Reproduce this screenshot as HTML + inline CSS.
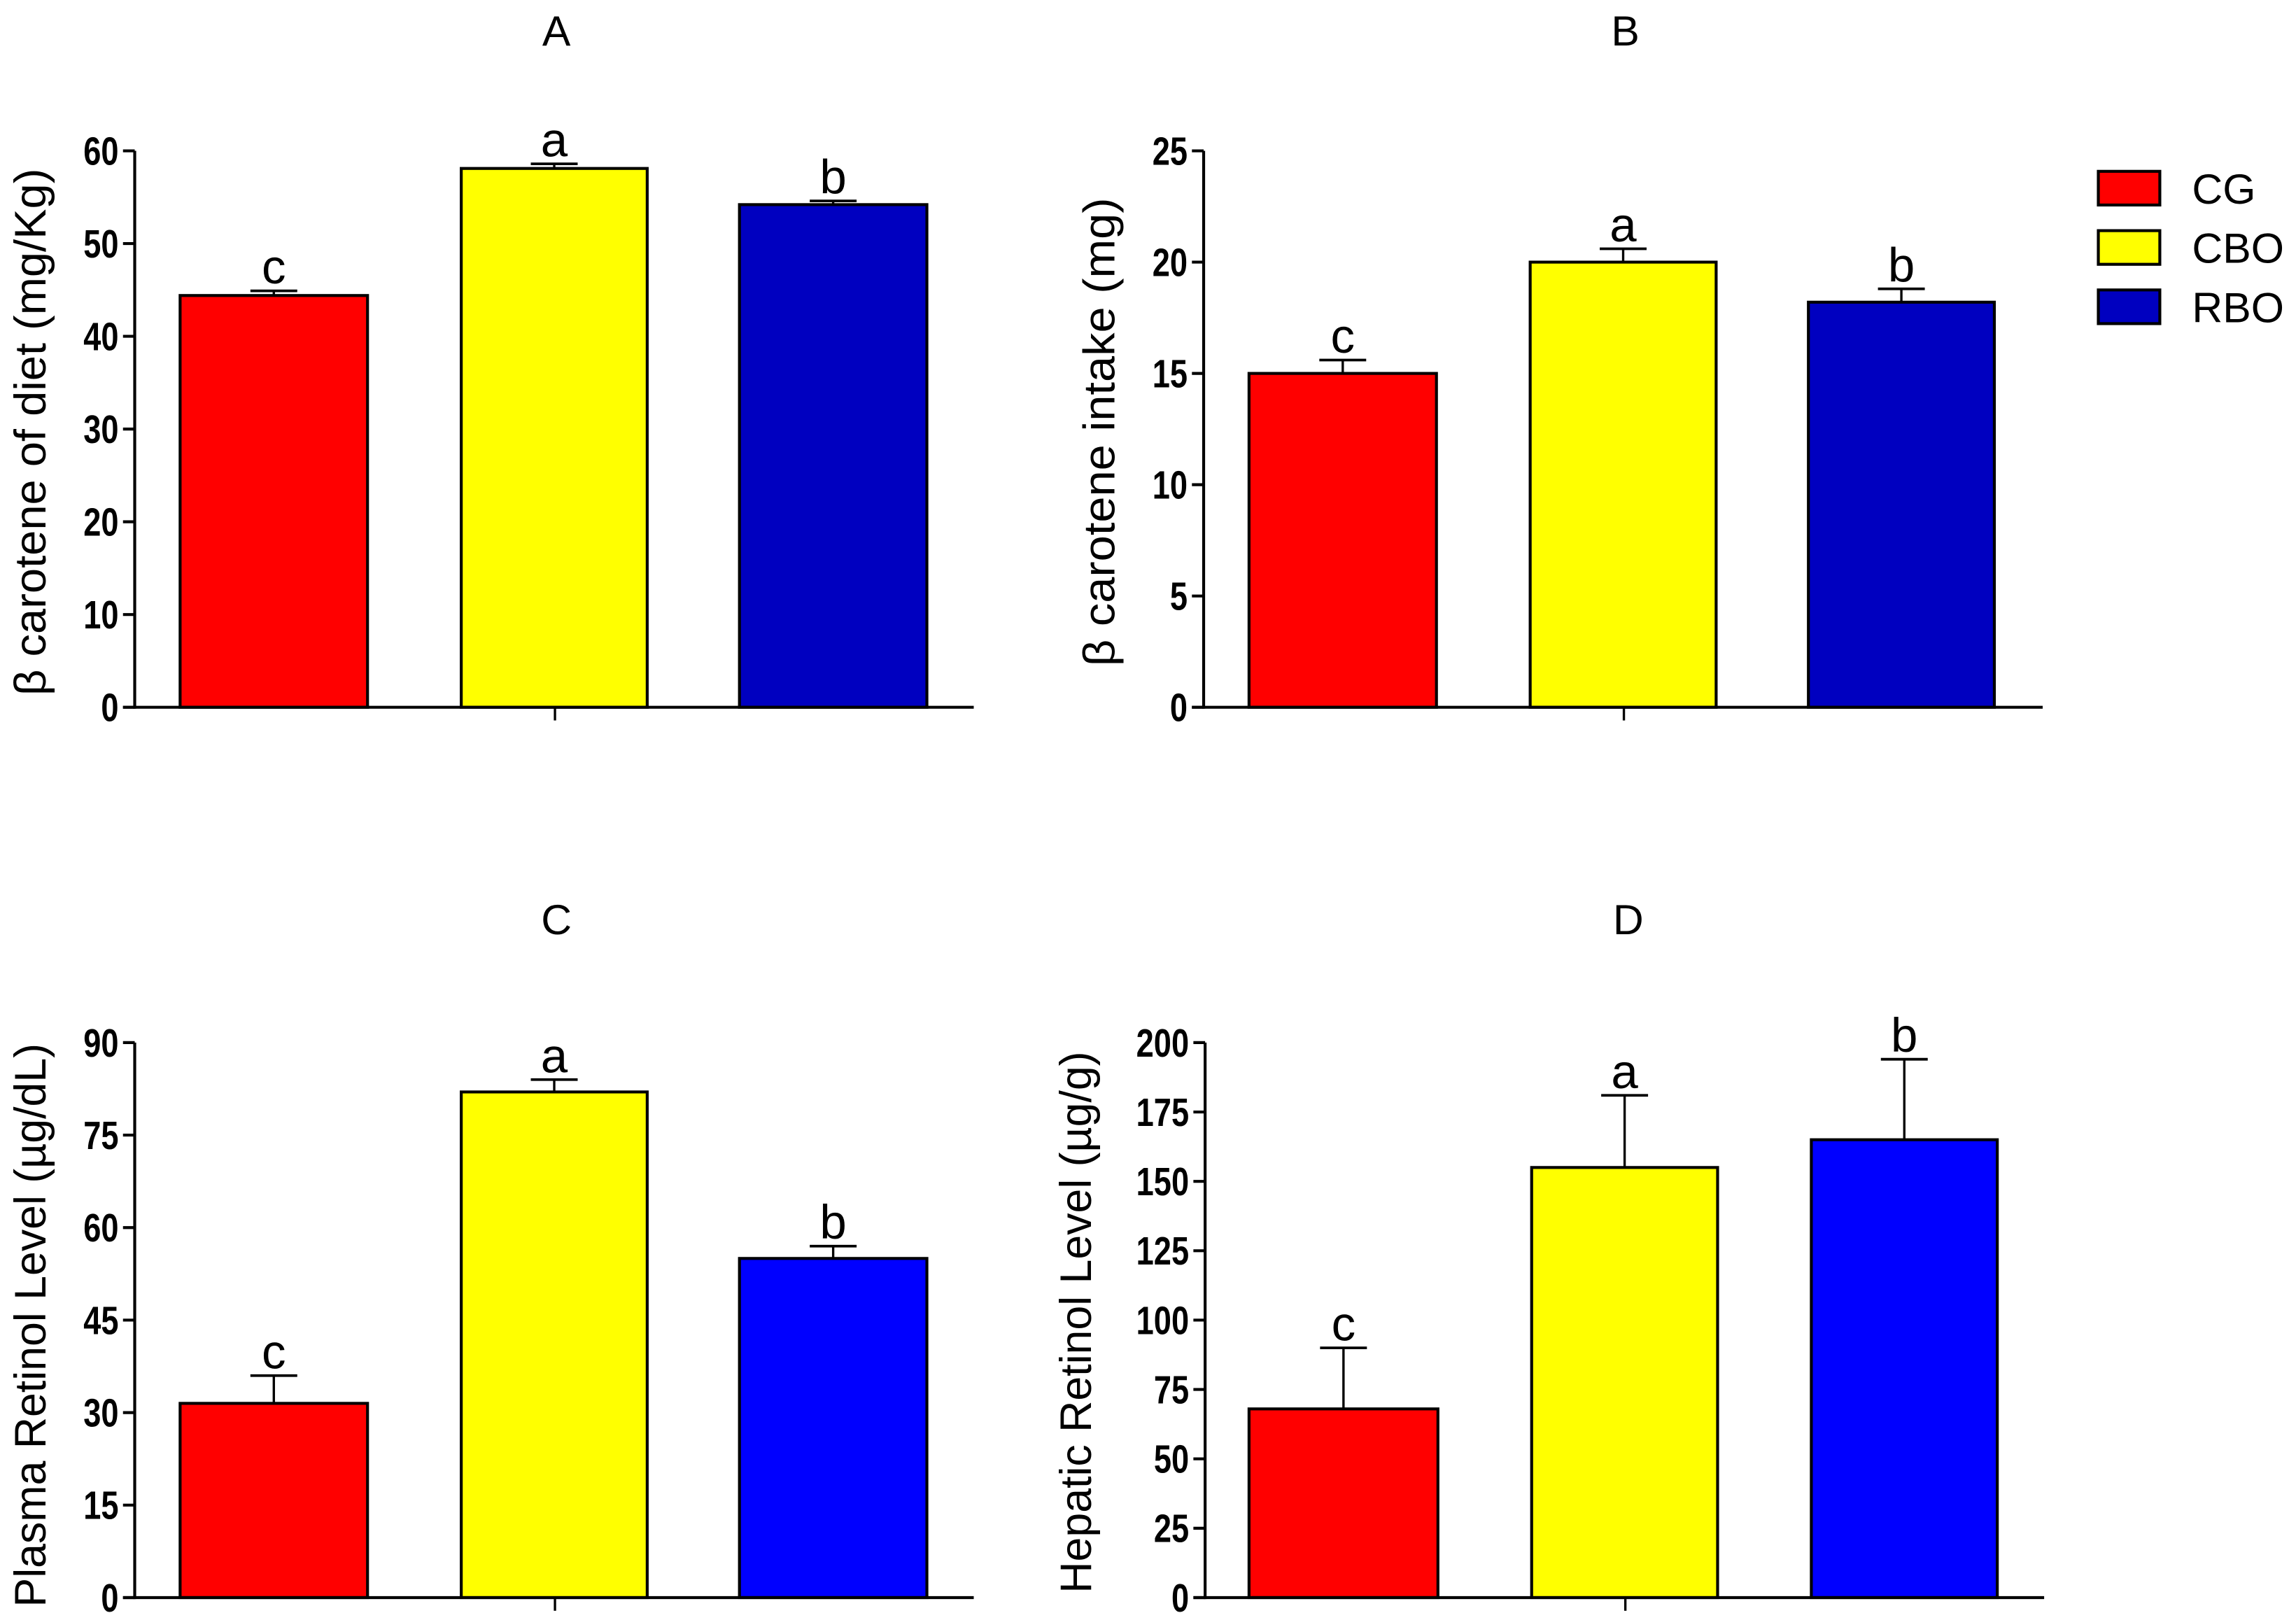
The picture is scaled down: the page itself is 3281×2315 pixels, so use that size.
<!DOCTYPE html>
<html><head><meta charset="utf-8"><style>
html,body{margin:0;padding:0;background:#fff;}
svg{display:block;}
text{font-family:"Liberation Sans",sans-serif;fill:#000;}
</style></head><body>
<svg id="fig" width="3281" height="2315" viewBox="0 0 1568 1106.3" preserveAspectRatio="none" xmlns="http://www.w3.org/2000/svg"></svg>
<script>
const groups = ["CG","CBO","RBO"];
const valsA = [44.4, 58.1, 54.2];
const errA = [0.5, 0.5, 0.4];
const lettersA = ["c","a","b"];
const valsB = [15.0, 20.0, 18.2];
const errB = [0.6, 0.6, 0.6];
const lettersB = ["c","a","b"];
const valsC = [31.5, 82.0, 55.0];
const errC = [4.5, 2.0, 2.0];
const lettersC = ["c","a","b"];
const valsD = [68, 155, 165];
const errD = [22, 26, 29];
const lettersD = ["c","a","b"];
const ticksA = [0,10,20,30,40,50,60];
const ticksB = [0,5,10,15,20,25];
const ticksC = [0,15,30,45,60,75,90];
const ticksD = [0,25,50,75,100,125,150,175,200];

const NS = "http://www.w3.org/2000/svg";
const svg = document.getElementById('fig');
function mk(tag, attrs, parent, txt){
  const e = document.createElementNS(NS, tag);
  for (const k in attrs) e.setAttribute(k, attrs[k]);
  if (txt !== undefined) e.textContent = txt;
  (parent || svg).appendChild(e);
  return e;
}

const panels = [
  {id:'a', title:'A', tx:380, ty:31, ax:92, top:103, zero:483, xEnd:665, max:60, vals:valsA, err:errA, let:lettersA, ticks:ticksA, bars:[[123,251],[315,442],[505,633]], blue:'#0000c0', ylabel:'\u03B2 carotene of diet (mg/Kg)', ylx:31, yly:295, tl:360},
  {id:'b', title:'B', tx:1110, ty:31, ax:822, top:103, zero:483, xEnd:1395, max:25, vals:valsB, err:errB, let:lettersB, ticks:ticksB, bars:[[853,981],[1045,1172],[1235,1362]], blue:'#0000c0', ylabel:'\u03B2 carotene intake  (mg)', ylx:761, yly:295, tl:320},
  {id:'c', title:'C', tx:380, ty:638, ax:92, top:712, zero:1091, xEnd:665, max:90, vals:valsC, err:errC, let:lettersC, ticks:ticksC, bars:[[123,251],[315,442],[505,633]], blue:'#0000ff', ylabel:'Plasma Retinol Level (\u00B5g/dL)', ylx:31, yly:905, tl:385},
  {id:'d', title:'D', tx:1112, ty:638, ax:823, top:712, zero:1091, xEnd:1396, max:200, vals:valsD, err:errD, let:lettersD, ticks:ticksD, bars:[[853,982],[1046,1173],[1237,1364]], blue:'#0000ff', ylabel:'Hepatic Retinol Level (\u00B5g/g)', ylx:745, yly:903, tl:370}
];

panels.forEach(p => {
  const g = mk('g', {});
  
  
  const y = v => p.zero - (v / p.max) * (p.zero - p.top);
  const colors = ['#ff0000', '#ffff00', p.blue];
  const t = mk('text', {x:p.tx, y:p.ty, 'font-size':29, 'text-anchor':'middle'}, g, p.title);
  
  
  const yl = mk('text', {x:0, y:0, 'font-size':30, 'text-anchor':'middle', textLength:p.tl, lengthAdjust:'spacingAndGlyphs', transform:`translate(${p.ylx},${p.yly}) rotate(-90)`}, g, p.ylabel);
  
  
  p.vals.forEach((v, i) => {
    const [x0, x1] = p.bars[i];
    const cx = (x0 + x1) / 2;
    const yt = y(v), ye = y(v + p.err[i]);
    const el = mk('line', {x1:cx, x2:cx, y1:yt, y2:ye, stroke:'#000', 'stroke-width':1.6}, g);
    
    
    const cap = mk('line', {x1:cx-16, x2:cx+16, y1:ye, y2:ye, stroke:'#000', 'stroke-width':1.8}, g);
    
    
    const r = mk('rect', {x:x0, y:yt, width:x1-x0, height:p.zero-yt, fill:colors[i], stroke:'#000', 'stroke-width':2}, g);
    
    
    const lt = mk('text', {x:cx, y:ye-5, 'font-size':33, 'text-anchor':'middle'}, g, p.let[i]);
    
    
  });
  const ya = mk('line', {x1:p.ax, x2:p.ax, y1:p.top, y2:p.zero+1, stroke:'#000', 'stroke-width':2}, g);
  
  
  const xa = mk('line', {x1:p.ax-8, x2:p.xEnd, y1:p.zero, y2:p.zero, stroke:'#000', 'stroke-width':2}, g);
  
  
  const mx = (p.ax + p.xEnd) / 2 + 0.5;
  const xt = mk('line', {x1:mx, x2:mx, y1:p.zero, y2:p.zero+9, stroke:'#000', 'stroke-width':1.6}, g);
  
  
  p.ticks.forEach(tv => {
    const yy = y(tv);
    const tk = mk('line', {x1:p.ax-8, x2:p.ax, y1:yy, y2:yy, stroke:'#000', 'stroke-width':2}, g);
    
    
    const tl = mk('text', {x:p.ax-11, y:yy+9.5, 'font-size':27, 'font-weight':'bold', 'text-anchor':'end', transform:`scale(0.8,1)`, 'transform-origin':`${p.ax-11} ${yy}`}, g, String(tv));
    
    
  });
});

const legendColors = ['#ff0000','#ffff00','#0000c0'];
const lg = mk('g', {});


groups.forEach((name, i) => {
  const yy = 117 + i * 40.5;
  const b = mk('rect', {x:1433, y:yy, width:42, height:23, fill:legendColors[i], stroke:'#000', 'stroke-width':2}, lg);
  
  
  const tx = mk('text', {x:1497, y:yy+22, 'font-size':29}, lg, name);
  
  
});
</script>
</body></html>
